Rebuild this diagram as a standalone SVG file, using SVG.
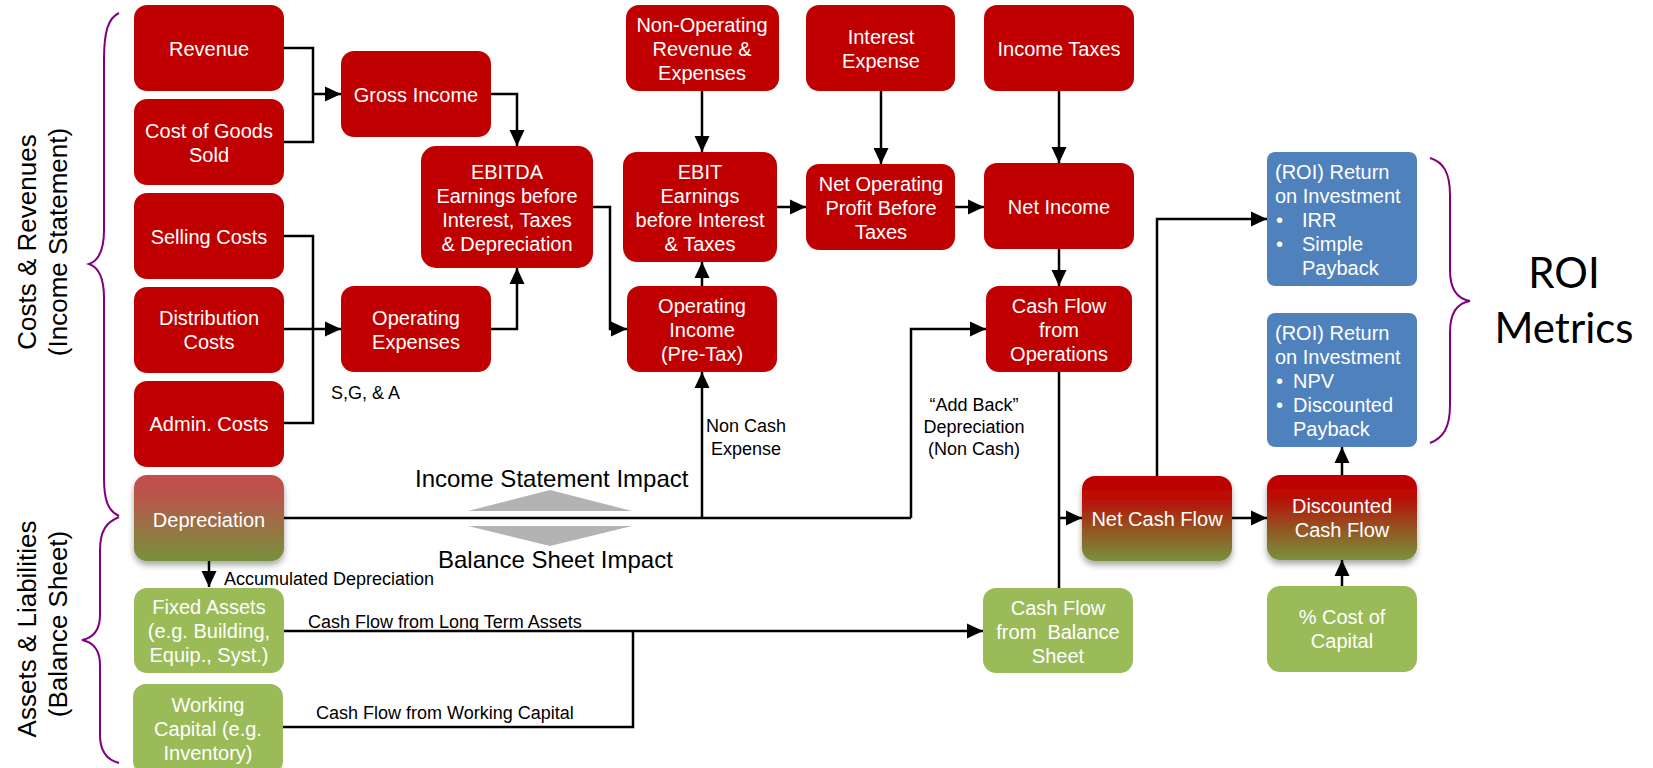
<svg xmlns="http://www.w3.org/2000/svg" width="1653" height="768" viewBox="0 0 1653 768">
  <style>
    .red { fill: #c00000; }
    .green { fill: #9bbb59; }
    .blue { fill: #4f81bd; }
    .lbl { font-family: "Liberation Sans", Arial, sans-serif; font-size: 20px; fill: #ffffff; text-anchor: middle; }
    .lbl-l { font-family: "Liberation Sans", Arial, sans-serif; font-size: 20px; fill: #ffffff; }
    .note { font-family: "Liberation Sans", Arial, sans-serif; font-size: 18px; fill: #000000; }
    .note-c { font-family: "Liberation Sans", Arial, sans-serif; font-size: 18px; fill: #000000; text-anchor: middle; }
    .impact { font-family: "Liberation Sans", Arial, sans-serif; font-size: 24px; fill: #000000; }
    .side { font-family: "Liberation Sans", Arial, sans-serif; font-size: 26px; fill: #000000; text-anchor: middle; }
    .big { font-family: Lato, "Open Sans", sans-serif; font-size: 42px; fill: #000000; text-anchor: middle; }
    .wire { fill: none; stroke: #000000; stroke-width: 2.5; }
    .arrow { fill: none; stroke: #000000; stroke-width: 2.5; marker-end: url(#head); }
    .brace { fill: none; stroke: #800080; stroke-width: 2; }
    .tri { fill: #b3b3b3; }
  </style>
  <defs>
    <marker id="head" markerUnits="userSpaceOnUse" markerWidth="16" markerHeight="16" refX="16" refY="8" orient="auto">
      <path d="M0,0.5 L16,8 L0,15.5 z" fill="#000000"/>
    </marker>
    <linearGradient id="gradRed" x1="0" y1="0" x2="0" y2="1">
      <stop offset="0" stop-color="#c00000"/>
      <stop offset="0.25" stop-color="#bb0a05"/>
      <stop offset="0.6" stop-color="#964f21"/>
      <stop offset="1" stop-color="#77933c"/>
    </linearGradient>
    <linearGradient id="gradDep" x1="0" y1="0" x2="0" y2="1">
      <stop offset="0" stop-color="#c0504d"/>
      <stop offset="0.2" stop-color="#bc524c"/>
      <stop offset="1" stop-color="#76923c"/>
    </linearGradient>
    <filter id="shadow" x="-10%" y="-10%" width="120%" height="130%">
      <feDropShadow dx="0" dy="4" stdDeviation="3" flood-color="#000000" flood-opacity="0.35"/>
    </filter>
  </defs>

  <!-- side captions and braces -->
  <g id="caption-income">
    <text class="side" transform="translate(36,242) rotate(-90)">Costs &amp; Revenues</text>
    <text class="side" transform="translate(67,242) rotate(-90)">(Income Statement)</text>
    <path class="brace" d="M119,13 C108,18 104,32 104,60 L104,230 C104,252 98,261 89,264 C98,267 104,276 104,298 L104,478 C104,500 108,511 119,516"/>
  </g>
  <g id="caption-balance">
    <text class="side" transform="translate(36,629) rotate(-90)">Assets &amp; Liabilities</text>
    <text class="side" transform="translate(67,624) rotate(-90)">(Balance Sheet)</text>
    <path class="brace" d="M119,517 C107,522 100,530 100,550 L100,615 C100,632 92,638 82,640 C92,642 100,648 100,665 L100,735 C100,752 107,760 119,763"/>
  </g>
  <g id="caption-roi">
    <path class="brace" d="M1430,158 C1443,162 1450,172 1450,195 L1450,270 C1450,290 1458,299 1470,301 C1458,303 1450,312 1450,332 L1450,405 C1450,428 1443,438 1430,443"/>
    <text class="big" x="1564" y="288">ROI</text>
    <text class="big" x="1564" y="343">Metrics</text>
  </g>

  <!-- connectors -->
  <g id="connectors">
    <path class="wire" d="M284,48 H313 V142 H284"/>
    <path class="arrow" d="M313,94 H341"/>
    <path class="wire" d="M284,236 H313 V423 H284"/>
    <path class="arrow" d="M284,329 H341"/>
    <path class="arrow" d="M491,94 H517 V146"/>
    <path class="arrow" d="M491,329 H517 V268"/>
    <path class="arrow" d="M593,207 H610 V329 H627"/>
    <path class="arrow" d="M702,91 V152"/>
    <path class="arrow" d="M702,286 V262"/>
    <path class="arrow" d="M881,91 V164"/>
    <path class="arrow" d="M777,207 H806"/>
    <path class="arrow" d="M955,207 H984"/>
    <path class="arrow" d="M1059,91 V163"/>
    <path class="arrow" d="M1059,249 V286"/>
    <path class="wire" d="M284,518 H911"/>
    <path class="arrow" d="M702,518 V372"/>
    <path class="arrow" d="M911,518 V329 H986"/>
    <path class="wire" d="M1059,372 V588"/>
    <path class="arrow" d="M1059,518 H1082"/>
    <path class="arrow" d="M1157,476 V219 H1267"/>
    <path class="arrow" d="M1232,518 H1267"/>
    <path class="arrow" d="M1342,475 V447"/>
    <path class="arrow" d="M1342,586 V560"/>
    <path class="arrow" d="M209,561 V587"/>
    <path class="arrow" d="M284,631 H983"/>
    <path class="wire" d="M633,631 V727 H283"/>
  </g>

  <!-- connector labels -->
  <g id="labels">
    <text class="note" x="331" y="399">S,G, &amp; A</text>
    <text class="note-c" x="746" y="432">Non Cash</text>
    <text class="note-c" x="746" y="455">Expense</text>
    <text class="note-c" x="974" y="411">“Add Back”</text>
    <text class="note-c" x="974" y="433">Depreciation</text>
    <text class="note-c" x="974" y="455">(Non Cash)</text>
    <text class="note" x="224" y="585" font-size="18.5">Accumulated Depreciation</text>
    <text class="note" x="308" y="628">Cash Flow from Long Term Assets</text>
    <text class="note" x="316" y="719">Cash Flow from Working Capital</text>
  </g>

  <!-- impact divider -->
  <g id="impact">
    <text class="impact" x="415" y="487">Income Statement Impact</text>
    <path class="tri" d="M468,511 L632,511 L550,490 z"/>
    <path class="tri" d="M468,526 L632,526 L550,546 z"/>
    <text class="impact" x="438" y="568">Balance Sheet Impact</text>
  </g>

  <!-- income statement column -->
  <g id="revenue">
    <rect class="red" x="134" y="5" width="150" height="86" rx="13"/>
    <text class="lbl" x="209" y="56">Revenue</text>
  </g>
  <g id="cogs">
    <rect class="red" x="134" y="99" width="150" height="86" rx="13"/>
    <text class="lbl" x="209" y="138">Cost of Goods</text>
    <text class="lbl" x="209" y="162">Sold</text>
  </g>
  <g id="selling">
    <rect class="red" x="134" y="193" width="150" height="86" rx="13"/>
    <text class="lbl" x="209" y="244">Selling Costs</text>
  </g>
  <g id="distribution">
    <rect class="red" x="134" y="287" width="150" height="86" rx="13"/>
    <text class="lbl" x="209" y="325">Distribution</text>
    <text class="lbl" x="209" y="349">Costs</text>
  </g>
  <g id="admin">
    <rect class="red" x="134" y="381" width="150" height="86" rx="13"/>
    <text class="lbl" x="209" y="431">Admin. Costs</text>
  </g>
  <g id="depreciation">
    <rect x="134" y="475" width="150" height="86" rx="13" fill="url(#gradDep)" filter="url(#shadow)"/>
    <text class="lbl" x="209" y="527">Depreciation</text>
  </g>

  <!-- balance sheet column -->
  <g id="fixed-assets">
    <rect class="green" x="134" y="588" width="150" height="85" rx="13"/>
    <text class="lbl" x="209" y="614">Fixed Assets</text>
    <text class="lbl" x="209" y="638">(e.g. Building,</text>
    <text class="lbl" x="209" y="662">Equip., Syst.)</text>
  </g>
  <g id="working-capital">
    <rect class="green" x="133" y="684" width="150" height="90" rx="13"/>
    <text class="lbl" x="208" y="712">Working</text>
    <text class="lbl" x="208" y="736">Capital (e.g.</text>
    <text class="lbl" x="208" y="760">Inventory)</text>
  </g>

  <!-- intermediate results -->
  <g id="gross-income">
    <rect class="red" x="341" y="51" width="150" height="86" rx="13"/>
    <text class="lbl" x="416" y="102">Gross Income</text>
  </g>
  <g id="operating-expenses">
    <rect class="red" x="341" y="286" width="150" height="86" rx="13"/>
    <text class="lbl" x="416" y="325">Operating</text>
    <text class="lbl" x="416" y="349">Expenses</text>
  </g>
  <g id="ebitda">
    <rect class="red" x="421" y="146" width="172" height="122" rx="15"/>
    <text class="lbl" x="507" y="179">EBITDA</text>
    <text class="lbl" x="507" y="203">Earnings before</text>
    <text class="lbl" x="507" y="227">Interest, Taxes</text>
    <text class="lbl" x="507" y="251">&amp; Depreciation</text>
  </g>
  <g id="non-operating">
    <rect class="red" x="626" y="5" width="153" height="86" rx="13"/>
    <text class="lbl" x="702" y="32">Non-Operating</text>
    <text class="lbl" x="702" y="56">Revenue &amp;</text>
    <text class="lbl" x="702" y="80">Expenses</text>
  </g>
  <g id="ebit">
    <rect class="red" x="623" y="152" width="154" height="110" rx="14"/>
    <text class="lbl" x="700" y="179">EBIT</text>
    <text class="lbl" x="700" y="203">Earnings</text>
    <text class="lbl" x="700" y="227">before Interest</text>
    <text class="lbl" x="700" y="251">&amp; Taxes</text>
  </g>
  <g id="operating-income">
    <rect class="red" x="627" y="286" width="150" height="86" rx="13"/>
    <text class="lbl" x="702" y="313">Operating</text>
    <text class="lbl" x="702" y="337">Income</text>
    <text class="lbl" x="702" y="361">(Pre-Tax)</text>
  </g>
  <g id="interest-expense">
    <rect class="red" x="806" y="5" width="149" height="86" rx="13"/>
    <text class="lbl" x="881" y="44">Interest</text>
    <text class="lbl" x="881" y="68">Expense</text>
  </g>
  <g id="nopbt">
    <rect class="red" x="806" y="164" width="149" height="86" rx="13"/>
    <text class="lbl" x="881" y="191">Net Operating</text>
    <text class="lbl" x="881" y="215">Profit Before</text>
    <text class="lbl" x="881" y="239">Taxes</text>
  </g>
  <g id="income-taxes">
    <rect class="red" x="984" y="5" width="150" height="86" rx="13"/>
    <text class="lbl" x="1059" y="56">Income Taxes</text>
  </g>
  <g id="net-income">
    <rect class="red" x="984" y="163" width="150" height="86" rx="13"/>
    <text class="lbl" x="1059" y="214">Net Income</text>
  </g>
  <g id="cash-flow-operations">
    <rect class="red" x="986" y="286" width="146" height="86" rx="13"/>
    <text class="lbl" x="1059" y="313">Cash Flow</text>
    <text class="lbl" x="1059" y="337">from</text>
    <text class="lbl" x="1059" y="361">Operations</text>
  </g>
  <g id="cash-flow-balance">
    <rect class="green" x="983" y="588" width="150" height="85" rx="13"/>
    <text class="lbl" x="1058" y="615">Cash Flow</text>
    <text class="lbl" x="1058" y="639" xml:space="preserve">from  Balance</text>
    <text class="lbl" x="1058" y="663">Sheet</text>
  </g>
  <g id="net-cash-flow">
    <rect x="1082" y="476" width="150" height="85" rx="13" fill="url(#gradRed)" filter="url(#shadow)"/>
    <text class="lbl" x="1157" y="526">Net Cash Flow</text>
  </g>
  <g id="discounted-cash-flow">
    <rect x="1267" y="475" width="150" height="85" rx="13" fill="url(#gradRed)" filter="url(#shadow)"/>
    <text class="lbl" x="1342" y="513">Discounted</text>
    <text class="lbl" x="1342" y="537">Cash Flow</text>
  </g>
  <g id="cost-of-capital">
    <rect class="green" x="1267" y="586" width="150" height="86" rx="13"/>
    <text class="lbl" x="1342" y="624">% Cost of</text>
    <text class="lbl" x="1342" y="648">Capital</text>
  </g>

  <!-- ROI metric boxes -->
  <g id="roi-irr">
    <rect class="blue" x="1267" y="152" width="150" height="134" rx="8"/>
    <text class="lbl-l" x="1275" y="179">(ROI) Return</text>
    <text class="lbl-l" x="1275" y="203">on Investment</text>
    <text class="lbl-l" x="1276" y="227">•</text>
    <text class="lbl-l" x="1302" y="227">IRR</text>
    <text class="lbl-l" x="1276" y="251">•</text>
    <text class="lbl-l" x="1302" y="251">Simple</text>
    <text class="lbl-l" x="1302" y="275">Payback</text>
  </g>
  <g id="roi-npv">
    <rect class="blue" x="1267" y="313" width="150" height="134" rx="8"/>
    <text class="lbl-l" x="1275" y="340">(ROI) Return</text>
    <text class="lbl-l" x="1275" y="364">on Investment</text>
    <text class="lbl-l" x="1276" y="388">•</text>
    <text class="lbl-l" x="1293" y="388">NPV</text>
    <text class="lbl-l" x="1276" y="412">•</text>
    <text class="lbl-l" x="1293" y="412">Discounted</text>
    <text class="lbl-l" x="1293" y="436">Payback</text>
  </g>
</svg>
